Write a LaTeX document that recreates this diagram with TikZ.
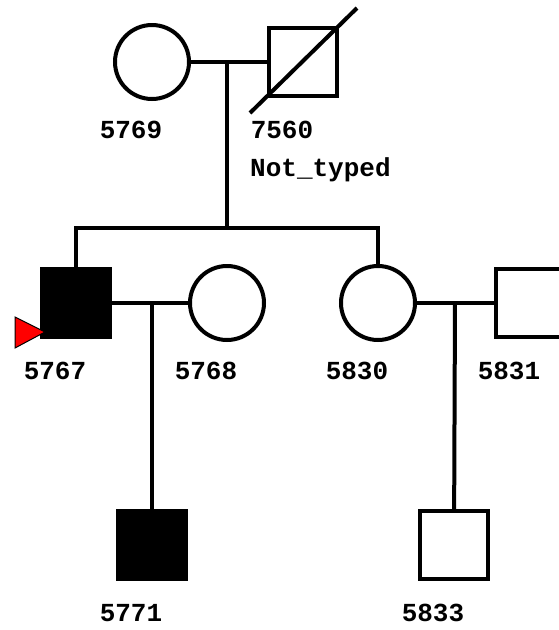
\documentclass[tikz,border=0pt]{standalone}
\usepackage{fontspec}
\setmonofont{Liberation Mono}
\usepackage{tikz}

\tikzset{
  male/.style={draw, line width=4pt, minimum size=68pt, inner sep=0pt},
  female/.style={draw, circle, line width=4pt, minimum size=74pt, inner sep=0pt},
  affected/.style={fill=black},
  line/.style={line width=4pt},
  idtext/.style={anchor=base, inner sep=0pt, font=\ttfamily\bfseries\fontsize{26}{30}\selectfont}
}

\begin{document}
\begin{tikzpicture}[x=1pt,y=-1pt]
\useasboundingbox (0,0) rectangle (559,630);
\clip (0,0) rectangle (559,630);
% first generation
\node [female] (f5769) at (152,62) {};
\node [male] (m7560) at (303,62) {};
\draw [line] ([shift={(-53,51)}]m7560.center) -- ([shift={(54,-54)}]m7560.center);
\coordinate (u1) at (227,62);
\draw [line] (f5769) -- (m7560);
% second generation
\node [male, affected] (m5767) at (76,303) {};
\node [female] (f5768) at (227,303) {};
\node [female] (f5830) at (378,303) {};
\node [male] (m5831) at (530,303) {};
\coordinate (s1) at (227,228);
\coordinate (s5767) at (76,228);
\coordinate (s5830) at (378,228);
\draw [line] (u1) -- (s1);
\draw [line] (m5767) -- (s5767) -- (s5830) -- (f5830);
\draw [line] (m5767) -- (f5768);
\draw [line] (f5830) -- (m5831);
\coordinate (u2) at (152,303);
\coordinate (u3) at (455,303);
% third generation
\node [male, affected] (m5771) at (152,545) {};
\node [male] (m5833) at (454,545) {};
\draw [line] (u2) -- (m5771);
\draw [line] (u3) -- (m5833);
% proband
\draw [fill=red, line width=1pt] (15,317) -- (45,332) -- (15,348) -- cycle;
% ids
\node [idtext] (t5769) at ([shift={(-21,76)}]f5769.center) {5769};
\node [idtext] (t7560) at ([shift={(-21,76)}]m7560.center) {7560};
\node [idtext, anchor=base west] (n7560) at (250,176) {Not\_typed};
\node [idtext] (t5767) at ([shift={(-21,76)}]m5767.center) {5767};
\node [idtext] (t5768) at ([shift={(-21,76)}]f5768.center) {5768};
\node [idtext] (t5830) at ([shift={(-21,76)}]f5830.center) {5830};
\node [idtext] (t5831) at ([shift={(-21,76)}]m5831.center) {5831};
\node [idtext] (t5771) at ([shift={(-21,76)}]m5771.center) {5771};
\node [idtext] (t5833) at ([shift={(-21,76)}]m5833.center) {5833};
\end{tikzpicture}
\end{document}
